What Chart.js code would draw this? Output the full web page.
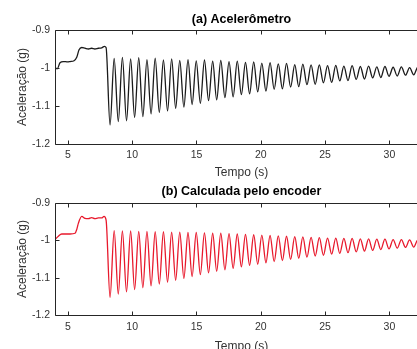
<!DOCTYPE html>
<html>
<head>
<meta charset="utf-8">
<script src="https://cdn.jsdelivr.net/npm/chart.js@4.4.1/dist/chart.umd.min.js"></script>
<style>
  html, body { margin: 0; padding: 0; background: #fff; width: 417px; height: 349px; overflow: hidden; }
  canvas { position: absolute; left: 0; }
  #accel { top: 0; }
  #encoder { top: 175px; }
</style>
</head>
<body>
<canvas id="accel" width="440" height="185"></canvas>
<canvas id="encoder" width="440" height="179"></canvas>
<script>
// tick values
const xTicks = [5, 10, 15, 20, 25, 30];
const yTicks = [-1.2, -1.1, -1, -0.9];

// (a) accelerometer, before the release
const accelEarlyT = [4.0, 4.18, 4.39, 4.65, 5.0, 5.17, 5.48, 5.69, 5.87, 6.08, 6.33, 6.6, 6.85, 7.1, 7.37, 7.63, 7.84, 7.97];
const accelEarlyV = [-0.999, -1.002, -0.986, -0.983, -0.984, -0.983, -0.981, -0.972, -0.952, -0.946, -0.948, -0.950, -0.948, -0.950, -0.948, -0.947, -0.943, -0.946];

// (b) encoder, before the release
const encEarlyT = [4.0, 4.26, 4.52, 4.8, 5.17, 5.56, 5.7, 5.82, 6.08, 6.33, 6.6, 6.85, 7.1, 7.37, 7.63, 7.81, 7.97];
const encEarlyV = [-0.998, -0.989, -0.983, -0.983, -0.983, -0.981, -0.970, -0.954, -0.936, -0.941, -0.942, -0.939, -0.942, -0.940, -0.940, -0.936, -0.945];

// oscillation: times of troughs / peaks (alternating)
const oscT = [8.28, 8.60, 8.92, 9.24, 9.56, 9.88, 10.19, 10.51, 10.83, 11.15, 11.47, 11.79, 12.11, 12.43,
  12.75, 13.07, 13.38, 13.70, 14.02, 14.34, 14.66, 14.98, 15.30, 15.62, 15.94, 16.26, 16.57, 16.89,
  17.21, 17.53, 17.85, 18.17, 18.49, 18.81, 19.13, 19.45, 19.76, 20.08, 20.40, 20.72, 21.04, 21.36,
  21.68, 22.00, 22.32, 22.64, 22.95, 23.27, 23.59, 23.91, 24.23, 24.55, 24.87, 25.19, 25.51, 25.83,
  26.14, 26.46, 26.78, 27.10, 27.42, 27.74, 28.06, 28.38, 28.70, 29.02, 29.33, 29.65, 29.97, 30.29,
  30.61, 30.93, 31.25, 31.57, 31.89, 32.21, 32.52, 32.84, 33.16];

const accelOscV = [-1.150, -0.975, -1.141, -0.972, -1.139, -0.976, -1.130, -0.973, -1.128, -0.978, -1.121, -0.974,
  -1.117, -0.979, -1.113, -0.976, -1.106, -0.980, -1.103, -0.978, -1.096, -0.981, -1.093, -0.979,
  -1.086, -0.982, -1.084, -0.980, -1.078, -0.983, -1.076, -0.982, -1.070, -0.985, -1.068, -0.984,
  -1.063, -0.987, -1.061, -0.986, -1.056, -0.989, -1.055, -0.988, -1.050, -0.991, -1.049, -0.990,
  -1.044, -0.992, -1.043, -0.992, -1.039, -0.994, -1.038, -0.993, -1.034, -0.995, -1.033, -0.994,
  -1.030, -0.996, -1.029, -0.995, -1.026, -0.997, -1.025, -0.996, -1.022, -0.998, -1.021, -0.997,
  -1.019, -0.999, -1.018, -0.998, -1.017, -0.999, -1.016];

const encOscV = [-1.153, -0.974, -1.144, -0.975, -1.138, -0.975, -1.132, -0.976, -1.127, -0.976, -1.122, -0.977,
  -1.117, -0.977, -1.112, -0.978, -1.107, -0.978, -1.102, -0.979, -1.097, -0.979, -1.092, -0.980,
  -1.087, -0.981, -1.083, -0.981, -1.079, -0.982, -1.075, -0.983, -1.071, -0.984, -1.067, -0.985,
  -1.064, -0.986, -1.060, -0.987, -1.057, -0.988, -1.054, -0.989, -1.051, -0.990, -1.048, -0.991,
  -1.045, -0.992, -1.042, -0.993, -1.040, -0.994, -1.037, -0.994, -1.035, -0.995, -1.033, -0.995,
  -1.031, -0.996, -1.029, -0.996, -1.027, -0.997, -1.025, -0.997, -1.023, -0.998, -1.021, -0.998,
  -1.019, -0.999, -1.018, -0.999, -1.017, -0.999, -1.016];

const FONT = "'Liberation Sans', Arial, sans-serif";

function toPoints(ts, vs) {
  return ts.map((t, i) => ({ x: t, y: vs[i] }));
}

// box with inward ticks, matlab style
const boxPlugin = {
  id: 'matlabBox',
  afterDatasetsDraw(chart) {
    const { ctx, chartArea: a, scales: { x, y } } = chart;
    const L = Math.round(a.left) + 0.5, R = Math.round(a.right) + 0.5;
    const T = Math.round(a.top) + 0.5, B = Math.round(a.bottom) + 0.5;
    ctx.save();
    ctx.strokeStyle = '#262626';
    ctx.lineWidth = 1;
    ctx.beginPath();
    ctx.rect(L, T, R - L, B - T);
    x.ticks.forEach(t => {
      const px = Math.round(x.getPixelForValue(t.value)) + 0.5;
      ctx.moveTo(px, B); ctx.lineTo(px, B - 4);
      ctx.moveTo(px, T); ctx.lineTo(px, T + 4);
    });
    y.ticks.forEach(t => {
      const py = Math.round(y.getPixelForValue(t.value)) + 0.5;
      ctx.moveTo(L, py); ctx.lineTo(L + 4, py);
      ctx.moveTo(R, py); ctx.lineTo(R - 4, py);
    });
    ctx.stroke();
    ctx.restore();
  }
};

function makeChart(id, title, points, color, lay) {
  return new Chart(document.getElementById(id), {
    type: 'line',
    data: {
      datasets: [{
        data: points,
        borderColor: color,
        borderWidth: 1.3,
        pointRadius: 0,
        cubicInterpolationMode: 'monotone',
        fill: false
      }]
    },
    options: {
      responsive: false,
      animation: false,
      devicePixelRatio: 1,
      layout: { padding: { left: 0, right: 12, top: 0, bottom: lay.bottomPad } },
      plugins: {
        legend: { display: false },
        tooltip: { enabled: false },
        title: {
          display: true,
          text: title,
          fullSize: false,
          color: '#000',
          font: { family: FONT, size: 12.5, weight: 'bold' },
          padding: { top: lay.titleTop, bottom: lay.titleBottom }
        }
      },
      scales: {
        x: {
          type: 'linear',
          min: 4,
          max: 33,
          afterBuildTicks: s => { s.ticks = xTicks.map(v => ({ value: v })); },
          afterFit: s => { s.height = lay.xHeight; },
          grid: { display: false, drawTicks: false },
          border: { display: false },
          ticks: { padding: lay.xPad, color: '#333', font: { family: FONT, size: 10.5 }, maxRotation: 0, autoSkip: false },
          title: { display: true, text: 'Tempo (s)', color: '#333', font: { family: FONT, size: 12 }, padding: { top: 4, bottom: 0 } }
        },
        y: {
          type: 'linear',
          min: -1.2,
          max: -0.9,
          afterBuildTicks: s => { s.ticks = yTicks.map(v => ({ value: v })); },
          afterFit: s => { s.width = 55; },
          grid: { display: false, drawTicks: false },
          border: { display: false },
          ticks: { padding: 5, color: '#333', font: { family: FONT, size: 10.5 }, callback: v => String(v) },
          title: { display: true, text: 'Aceleração (g)', color: '#333', font: { family: FONT, size: 12 }, padding: { top: 15, bottom: 0 } }
        }
      }
    },
    plugins: [boxPlugin]
  });
}

makeChart('accel', '(a) Acelerômetro',
  toPoints(accelEarlyT, accelEarlyV).concat(toPoints(oscT, accelOscV)), '#1a1a1a',
  { bottomPad: 5, titleTop: 12, titleBottom: 3, xHeight: 36, xPad: 5 });

makeChart('encoder', '(b) Calculada pelo encoder',
  toPoints(encEarlyT, encEarlyV).concat(toPoints(oscT, encOscV)), '#e8192c',
  { bottomPad: 0, titleTop: 9.5, titleBottom: 3.5, xHeight: 39, xPad: 6 });
</script>
</body>
</html>
